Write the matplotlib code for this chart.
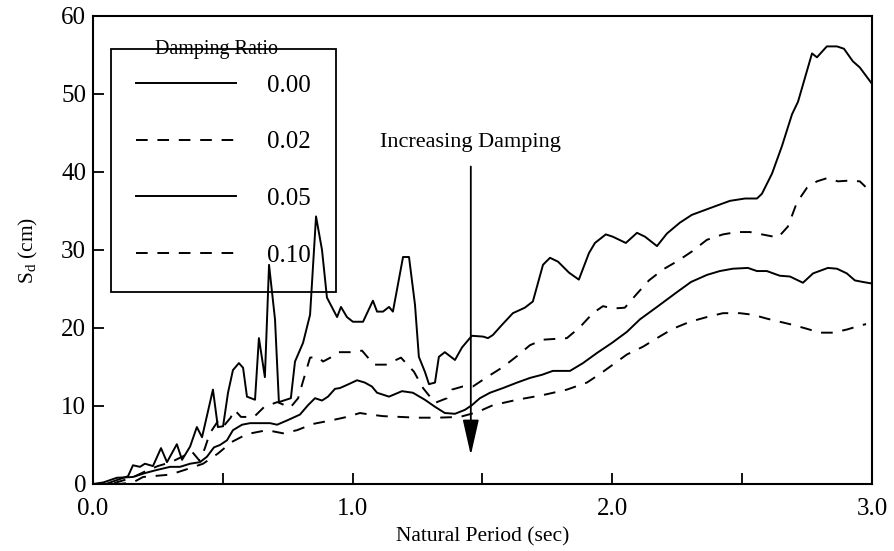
import matplotlib
matplotlib.use('Agg')
import matplotlib.pyplot as plt
from matplotlib.ticker import MultipleLocator
import numpy as np

plt.rcParams['font.family'] = ['Liberation Serif', 'DejaVu Serif']
plt.rcParams['mathtext.fontset'] = 'custom'
plt.rcParams['mathtext.rm'] = 'Liberation Serif'
plt.rcParams['mathtext.it'] = 'Liberation Serif:italic'

# natural period (sec) and spectral displacement (cm)
t_000 = [0.0, 0.05, 0.092, 0.135, 0.154, 0.181, 0.200, 0.231, 0.262, 0.285, 0.323, 0.343,
         0.374, 0.400, 0.420, 0.462, 0.481, 0.501, 0.520, 0.539, 0.562, 0.578, 0.593, 0.624,
         0.639, 0.662, 0.678, 0.701, 0.716, 0.762, 0.778, 0.809, 0.836, 0.859, 0.882, 0.901,
         0.940, 0.955, 0.978, 1.001, 1.040, 1.078, 1.094, 1.117, 1.140, 1.155, 1.194, 1.217,
         1.240, 1.255, 1.278, 1.294, 1.317, 1.332, 1.355, 1.394, 1.421, 1.459, 1.502, 1.521,
         1.540, 1.575, 1.617, 1.663, 1.694, 1.733, 1.760, 1.791, 1.833, 1.871, 1.910, 1.933,
         1.975, 2.002, 2.052, 2.095, 2.126, 2.172, 2.210, 2.260, 2.306, 2.387, 2.453, 2.511,
         2.557, 2.576, 2.615, 2.653, 2.692, 2.715, 2.769, 2.788, 2.826, 2.865, 2.892, 2.926,
         2.953, 3.000]
sd_000 = [0.0, 0.0, 0.5, 1.0, 2.4, 2.2, 2.6, 2.3, 4.6, 2.8, 5.1, 3.1,
          4.8, 7.3, 6.0, 12.1, 7.3, 7.4, 11.7, 14.6, 15.5, 14.9, 11.2, 10.8,
          18.7, 13.7, 28.1, 21.1, 10.5, 11.0, 15.7, 18.1, 21.7, 34.3, 30.0, 23.9,
          21.4, 22.7, 21.4, 20.8, 20.8, 23.5, 22.1, 22.1, 22.7, 22.1, 29.1, 29.1,
          23.0, 16.3, 14.4, 12.8, 13.0, 16.3, 16.9, 15.9, 17.5, 19.0, 18.9, 18.7,
          19.1, 20.4, 21.9, 22.6, 23.4, 28.1, 29.0, 28.5, 27.1, 26.2, 29.6, 30.9,
          32.0, 31.7, 30.9, 32.2, 31.7, 30.5, 32.1, 33.5, 34.5, 35.5, 36.3, 36.6,
          36.6, 37.2, 39.8, 43.3, 47.4, 49.0, 55.2, 54.7, 56.1, 56.1, 55.8, 54.2,
          53.4, 51.3]

t_002 = [0.0, 0.07, 0.10, 0.15, 0.20, 0.25, 0.30, 0.35, 0.38, 0.41, 0.43, 0.45, 0.48,
         0.50, 0.53, 0.545, 0.57, 0.62, 0.66, 0.71, 0.76, 0.79, 0.81, 0.836, 0.866, 0.886,
         0.920, 0.943, 1.001, 1.036, 1.059, 1.082, 1.128, 1.186, 1.236, 1.271, 1.317, 1.363,
         1.382, 1.424, 1.463, 1.517, 1.579, 1.633, 1.683, 1.733, 1.825, 1.875, 1.925, 1.964,
         2.002, 2.048, 2.095, 2.141, 2.195, 2.252, 2.306, 2.364, 2.426, 2.480, 2.530, 2.576,
         2.638, 2.676, 2.711, 2.750, 2.788, 2.826, 2.869, 2.915, 2.953, 2.975]
sd_002 = [0.0, 0.0, 0.3, 0.8, 1.6, 2.3, 2.8, 3.6, 4.2, 3.0, 4.5, 6.5, 8.0,
          7.3, 8.5, 9.5, 8.6, 8.6, 9.9, 10.5, 9.8, 11.0, 13.3, 16.2, 16.3, 15.7,
          16.3, 16.9, 16.9, 17.1, 16.2, 15.3, 15.3, 16.2, 14.4, 12.3, 10.4, 11.0,
          12.1, 12.5, 12.5, 13.7, 15.0, 16.4, 17.8, 18.5, 18.7, 20.1, 21.9, 22.8,
          22.5, 22.6, 24.4, 26.1, 27.5, 28.6, 29.8, 31.3, 32.0, 32.3, 32.3, 32.0,
          31.6, 33.0, 36.1, 38.0, 38.8, 39.2, 38.8, 38.9, 38.8, 38.1]

t_005 = [0.0, 0.04, 0.092, 0.154, 0.200, 0.246, 0.297, 0.335, 0.374, 0.412, 0.439, 0.466,
         0.489, 0.516, 0.539, 0.574, 0.605, 0.682, 0.709, 0.751, 0.797, 0.828, 0.855, 0.882,
         0.905, 0.932, 0.951, 0.978, 1.017, 1.047, 1.074, 1.094, 1.140, 1.190, 1.232, 1.278,
         1.317, 1.355, 1.394, 1.432, 1.459, 1.490, 1.529, 1.579, 1.633, 1.683, 1.729, 1.771,
         1.837, 1.887, 1.941, 1.999, 2.056, 2.106, 2.172, 2.249, 2.303, 2.364, 2.414, 2.464,
         2.522, 2.557, 2.595, 2.645, 2.684, 2.734, 2.773, 2.830, 2.865, 2.903, 2.934, 2.965,
         3.000]
sd_005 = [0.0, 0.2, 0.8, 0.9, 1.4, 1.8, 2.2, 2.2, 2.6, 2.8, 3.5, 4.7,
          5.0, 5.6, 6.9, 7.6, 7.8, 7.8, 7.6, 8.2, 8.9, 10.1, 11.0, 10.7,
          11.2, 12.2, 12.3, 12.7, 13.3, 13.0, 12.5, 11.7, 11.2, 11.9, 11.7, 10.8,
          9.9, 9.1, 9.0, 9.5, 10.1, 11.0, 11.7, 12.3, 13.0, 13.6, 14.0, 14.5,
          14.5, 15.5, 16.8, 18.1, 19.5, 21.1, 22.7, 24.6, 25.9, 26.8, 27.3, 27.6,
          27.7, 27.3, 27.3, 26.7, 26.6, 25.8, 27.0, 27.7, 27.6, 27.0, 26.1, 25.9,
          25.7]

t_010 = [0.0, 0.10, 0.154, 0.193, 0.297, 0.362, 0.424, 0.481, 0.535, 0.593, 0.670, 0.732,
         0.786, 0.847, 0.924, 0.978, 1.028, 1.067, 1.117, 1.248, 1.325, 1.413, 1.479, 1.540,
         1.633, 1.733, 1.825, 1.902, 1.952, 2.002, 2.056, 2.118, 2.172, 2.233, 2.299, 2.364,
         2.426, 2.491, 2.541, 2.595, 2.645, 2.695, 2.749, 2.799, 2.849, 2.903, 2.953, 2.977]
sd_010 = [0.0, 0.0, 0.2, 0.9, 1.2, 1.9, 2.6, 3.9, 5.4, 6.4, 6.9, 6.5,
          6.9, 7.7, 8.2, 8.6, 9.1, 8.9, 8.7, 8.5, 8.5, 8.6, 9.2, 10.1,
          10.8, 11.4, 12.1, 13.0, 14.1, 15.3, 16.6, 17.6, 18.7, 19.9, 20.8, 21.4,
          21.9, 21.9, 21.7, 21.2, 20.8, 20.4, 19.9, 19.4, 19.4, 19.8, 20.3, 20.5]

damping_labels = ['0.00', '0.02', '0.05', '0.10']
arrow_x = 1.455
arrow_top = 40.7
arrow_tip = 3.7

fig = plt.figure(figsize=(8.94, 5.51), dpi=100)
ax = fig.add_axes([0.104, 0.1216, 0.8714, 0.8494])

dash = (0, (6, 5))
lw = 1.4
l1, = ax.plot(t_000, sd_000, color='black', lw=lw, ls='-', zorder=6)
l2, = ax.plot(t_002, sd_002, color='black', lw=lw, ls=dash, zorder=6)
l3, = ax.plot(t_005, sd_005, color='black', lw=lw, ls='-', zorder=6)
l4, = ax.plot(t_010, sd_010, color='black', lw=lw, ls=dash, zorder=6)

ax.set_xlim(0, 3.0)
ax.set_ylim(0, 60)
ax.xaxis.set_minor_locator(MultipleLocator(0.5))
ax.yaxis.set_major_locator(MultipleLocator(10))
ax.set_xticks([0, 1, 2, 3])
ax.set_xticklabels(['0.0', '1.0', '2.0', '3.0'])
ax.tick_params(axis='both', which='both', direction='in', top=False, right=False,
               length=8, width=1.3, labelsize=18)
ax.tick_params(axis='x', which='major', pad=10)
ax.tick_params(axis='y', which='major', pad=5)
for sp in ax.spines.values():
    sp.set_linewidth(1.5)

ax.set_xlabel('Natural Period (sec)', fontsize=15.5, labelpad=5)
ax.set_ylabel(r'S$_{\rm d}$ (cm)', fontsize=15.5, labelpad=15)

# legend box is see-through: the tall peaks run over it in the original
leg = ax.legend([l1, l2, l3, l4], damping_labels, loc='upper left',
                bbox_to_anchor=(0.023, 0.929), borderaxespad=0, fontsize=18,
                frameon=True, fancybox=False, edgecolor='black', facecolor='none',
                framealpha=1, handlelength=4.0, handletextpad=1.25,
                labelspacing=1.37, borderpad=1.0)
leg.get_frame().set_linewidth(1.3)
ax.text(0.159, 0.929, 'Damping Ratio', transform=ax.transAxes, ha='center',
        va='center', fontsize=14.5, zorder=10)

ax.annotate('', xy=(arrow_x, arrow_tip), xytext=(arrow_x, arrow_top),
            arrowprops=dict(arrowstyle='-|>,head_length=2.2,head_width=0.5',
                            color='black', lw=1.3, mutation_scale=10,
                            shrinkA=0, shrinkB=0))
ax.text(arrow_x, 43.8, 'Increasing Damping', ha='center', va='center', fontsize=16)

fig.savefig('out.png', dpi=100)
